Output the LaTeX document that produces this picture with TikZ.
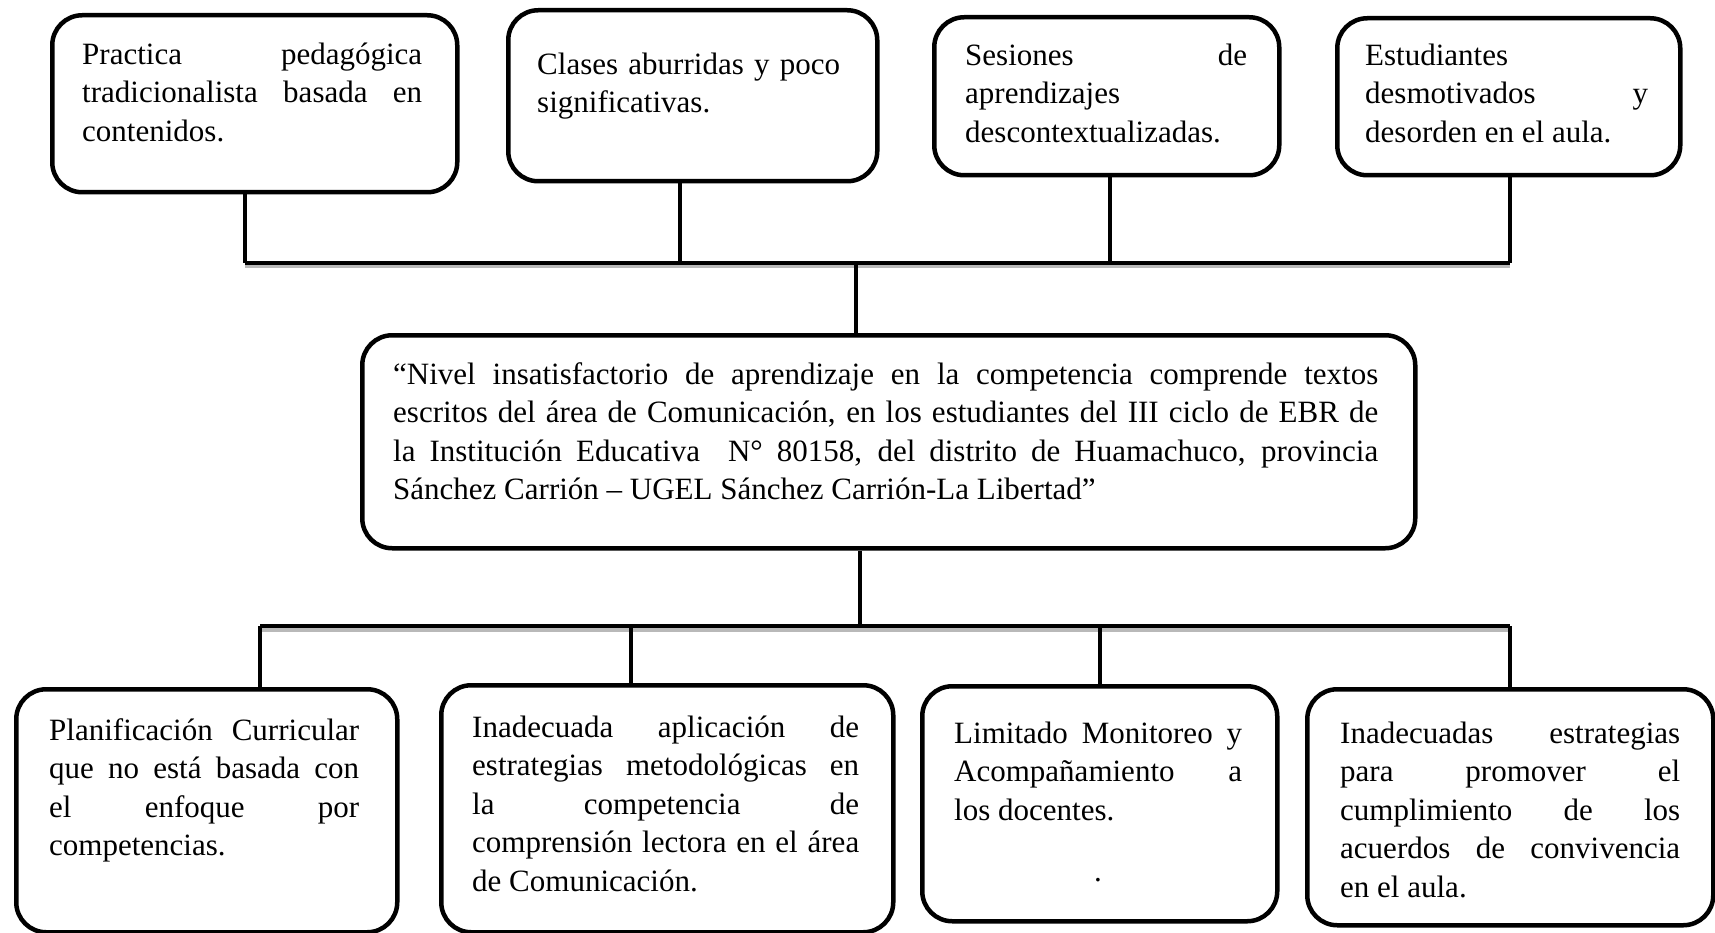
\documentclass[tikz,border=0pt]{standalone}
\usepackage{fontspec}
\setmainfont{Liberation Serif}
\hyphenpenalty=10000
\exhyphenpenalty=10000
\tolerance=9999
\begin{document}
\begin{tikzpicture}[x=1pt,y=-1pt,
  box/.style={draw, line width=4.5pt, rounded corners=30pt, anchor=north west, inner sep=0pt},
  conn/.style={line width=4pt},
  bus/.style={line width=4.5pt, preaction={draw=gray!55, line width=4pt, transform canvas={yshift=-3.5pt}}},
  txt/.style={inner sep=0pt, anchor=north west, align=justify, font=\fontsize{31}{38.5}\selectfont},
  txtl/.style={txt, align=left},
]
\useasboundingbox (0,0) rectangle (1715,933);

% boxes
\node[box, minimum width=405pt, minimum height=177pt] (b1) at (50,13) {};
\node[box, minimum width=369pt, minimum height=171pt] (b2) at (506,8) {};
\node[box, minimum width=345pt, minimum height=158pt] (b3) at (932,15) {};
\node[box, minimum width=343pt, minimum height=157pt] (b4) at (1335,16) {};
\node[box, minimum width=1053pt, minimum height=213pt] (c) at (360,333) {};
\node[box, minimum width=381pt, minimum height=243pt] (b5) at (14,687) {};
\node[box, minimum width=452pt, minimum height=247pt] (b6) at (439,683) {};
\node[box, minimum width=355pt, minimum height=235pt] (b7) at (920,684) {};
\node[box, minimum width=406pt, minimum height=236pt] (b8) at (1305,687) {};

% texts
\node[txt, text width=340pt] (t1) at (82,34) {\rule{0pt}{30pt}Practica pedagógica\linebreak tradicionalista basada en\linebreak contenidos.};
\node[txtl, text width=320pt] (t2) at (537,44) {\rule{0pt}{30pt}Clases aburridas y poco\\significativas.};
\node[txt, text width=282pt] (t3) at (965,35) {\rule{0pt}{30pt}Sesiones de\linebreak aprendizajes\linebreak descontextualizadas.};
\node[txt, text width=283pt] (t4) at (1365,35) {\rule{0pt}{30pt}Estudiantes\linebreak desmotivados y\linebreak desorden en el aula.};
\node[txt, text width=985pt] (tc) at (393,354) {\rule{0pt}{30pt}“Nivel insatisfactorio de aprendizaje en la competencia comprende textos\linebreak escritos del área de Comunicación, en los estudiantes del III ciclo de EBR de\linebreak la Institución Educativa~ N° 80158, del distrito de Huamachuco, provincia\linebreak Sánchez Carrión – UGEL Sánchez Carrión-La Libertad”};
\node[txt, text width=310pt] (t5) at (49,710) {\rule{0pt}{30pt}Planificación Curricular\linebreak que no está basada con\linebreak el enfoque por\linebreak competencias.};
\node[txt, text width=387pt] (t6) at (472,707) {\rule{0pt}{30pt}Inadecuada aplicación de\linebreak estrategias metodológicas en\linebreak la competencia de\linebreak comprensión lectora en el área\linebreak de Comunicación.};
\node[txt, text width=288pt] (t7) at (954,713) {\rule{0pt}{30pt}Limitado Monitoreo y\linebreak Acompañamiento a\linebreak los docentes.};
\node[inner sep=0pt, anchor=base, font=\fontsize{31}{38.5}\selectfont] (dot) at (1098,881) {.};
\node[txt, text width=340pt] (t8) at (1340,713) {\rule{0pt}{30pt}Inadecuadas estrategias\linebreak para promover el\linebreak cumplimiento de los\linebreak acuerdos de convivencia\linebreak en el aula.};

% junction coordinates
\coordinate (j1) at (245,263);
\coordinate (j2) at (680,263);
\coordinate (j3) at (1110,263);
\coordinate (j4) at (1510,263);
\coordinate (jc) at (856,263);
\coordinate (kc) at (860,626);
\coordinate (k5) at (260,626);
\coordinate (k6) at (631,626);
\coordinate (k7) at (1100,626);
\coordinate (k8) at (1510,626);

% top connectors
\draw[bus] (j1) -- (j4);
\draw[conn] (b1.south -| j1) -- (j1);
\draw[conn] (b2.south -| j2) -- (j2);
\draw[conn] (b3.south -| j3) -- (j3);
\draw[conn] (b4.south -| j4) -- (j4);
\draw[conn] (jc) -- (c.north -| jc);

% bottom connectors
\draw[conn] (c.south -| kc) -- (kc);
\draw[bus] (k5) -- (k8);
\draw[conn] (k5) -- (b5.north -| k5);
\draw[conn] (k6) -- (b6.north -| k6);
\draw[conn] (k7) -- (b7.north -| k7);
\draw[conn] (k8) -- (b8.north -| k8);
\end{tikzpicture}
\end{document}
